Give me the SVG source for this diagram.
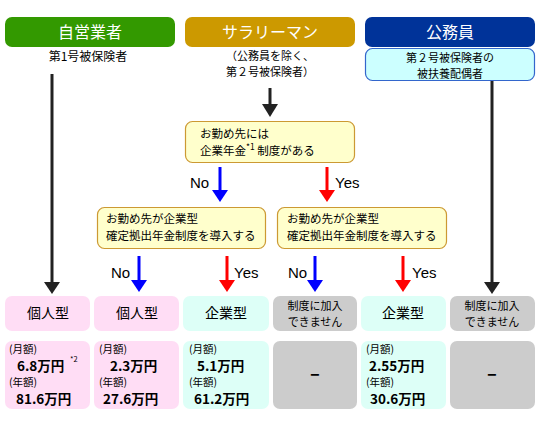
<svg xmlns="http://www.w3.org/2000/svg" width="540" height="431" viewBox="0 0 540 431">
<style>
text{font-family:"Noto Sans CJK JP","Noto Sans",sans-serif;fill:#000}
.hd{font-size:16px;fill:#fff;text-anchor:middle}
.t{font-size:12px}
.t2{font-size:11px}
.q{font-size:11.5px}
.s{font-size:10.5px}
.c{text-anchor:middle}
.yn{font-family:"Liberation Sans","Noto Sans",sans-serif;font-size:15px}
.big{font-size:14px;text-anchor:middle}
.amt{font-size:13.5px;font-weight:bold}
.dash{font-size:18px;font-weight:bold;text-anchor:middle}
.dec{fill:#FFFFCC;stroke:#CC9933;stroke-width:1.2}
.pink{fill:#FFDDF5}
.cyan{fill:#DDFFF7}
.gray{fill:#CCCCCC}
.k{stroke:#222;stroke-width:3}
.b{stroke:#0000FF;stroke-width:3}
.r{stroke:#FF0000;stroke-width:3}
</style>
<rect width="540" height="431" fill="#fff"/>
<g id="jieigyo">
<rect x="5" y="17" width="170" height="30" rx="7" fill="#339900"/>
<text class="hd" x="90" y="38">自営業者</text>
<text class="t c" x="88" y="61">第1号被保険者</text>
</g>
<g id="salary">
<rect x="185" y="17" width="170" height="30" rx="7" fill="#CC9900"/>
<text class="hd" x="270" y="38">サラリーマン</text>
<text class="t2 c" x="270" y="60">（公務員を除く、<tspan x="270" dy="16">第２号被保険者）</tspan></text>
</g>
<g id="komuin">
<rect x="365" y="17" width="170" height="30" rx="7" fill="#003399"/>
<text class="hd" x="450" y="38">公務員</text>
</g>
<g id="fuyou">
<rect x="365.5" y="48.5" width="169" height="32" rx="7" fill="#CCFFFF" stroke="#3366CC" stroke-width="1.2"/>
<text class="t2 c" x="450" y="61.5">第２号被保険者の<tspan x="450" dy="16">被扶養配偶者</tspan></text>
</g>
<g id="q1">
<rect class="dec" x="185.5" y="121.5" width="169" height="41" rx="7"/>
<text class="q" x="200" y="137.5">お勤め先には<tspan x="200" dy="17">企業年金</tspan><tspan font-size="8.5" dy="-5">*1</tspan><tspan dy="5"> 制度がある</tspan></text>
</g>
<g id="q2a">
<rect class="dec" x="97.5" y="207.5" width="168" height="41" rx="7"/>
<text class="q" x="106" y="222.5">お勤め先が企業型<tspan x="106" dy="17">確定拠出年金制度を導入する</tspan></text>
</g>
<g id="q2b">
<rect class="dec" x="277.5" y="207.5" width="169" height="41" rx="7"/>
<text class="q" x="287" y="222.5">お勤め先が企業型<tspan x="287" dy="17">確定拠出年金制度を導入する</tspan></text>
</g>
<g id="connectors">
<line class="k" x1="52" y1="74" x2="52" y2="284"/><polygon points="44,282 60,282 52,294" fill="#222"/>
<line class="k" x1="270" y1="88" x2="270" y2="106"/><polygon points="262,104 278,104 270,117" fill="#222"/>
<line class="k" x1="492" y1="81" x2="492" y2="284"/><polygon points="484,282 500,282 492,294" fill="#222"/>
<line class="b" x1="220" y1="167" x2="220" y2="192"/><polygon points="212,190 228,190 220,202" fill="#0000FF"/>
<text class="yn" x="190" y="188">No</text>
<line class="r" x1="327" y1="167" x2="327" y2="192"/><polygon points="319,190 335,190 327,202" fill="#FF0000"/>
<text class="yn" x="335" y="188">Yes</text>
<line class="b" x1="139" y1="256" x2="139" y2="282"/><polygon points="131,280 147,280 139,292" fill="#0000FF"/>
<text class="yn" x="111" y="278">No</text>
<line class="r" x1="227" y1="256" x2="227" y2="282"/><polygon points="219,280 235,280 227,292" fill="#FF0000"/>
<text class="yn" x="234" y="278">Yes</text>
<line class="b" x1="315" y1="256" x2="315" y2="282"/><polygon points="307,280 323,280 315,292" fill="#0000FF"/>
<text class="yn" x="288" y="278">No</text>
<line class="r" x1="403" y1="256" x2="403" y2="282"/><polygon points="395,280 411,280 403,292" fill="#FF0000"/>
<text class="yn" x="412" y="278">Yes</text>
</g>
<g id="r1c1"><rect class="pink" x="5" y="296" width="85" height="35" rx="7"/><text class="big" x="48" y="318">個人型</text></g>
<g id="r1c2"><rect class="pink" x="94" y="296" width="85" height="35" rx="7"/><text class="big" x="137" y="318">個人型</text></g>
<g id="r1c3"><rect class="cyan" x="183" y="296" width="86" height="35" rx="7"/><text class="big" x="226" y="318">企業型</text></g>
<g id="r1c4"><rect class="gray" x="273" y="296" width="84" height="35" rx="7"/><text class="t2 c" x="315" y="310">制度に加入<tspan x="315" dy="16">できません</tspan></text></g>
<g id="r1c5"><rect class="cyan" x="361" y="296" width="85" height="35" rx="7"/><text class="big" x="403" y="318">企業型</text></g>
<g id="r1c6"><rect class="gray" x="450" y="296" width="85" height="35" rx="7"/><text class="t2 c" x="492" y="310">制度に加入<tspan x="492" dy="16">できません</tspan></text></g>
<g id="r2c1"><rect class="pink" x="5" y="341" width="85" height="68" rx="7"/>
<text class="s" x="9" y="353">(月額)</text><text class="amt" x="17" y="370.5">6.8万円</text><text x="70" y="362" font-size="7.5">*2</text>
<text class="s" x="9" y="386">(年額)</text><text class="amt" x="16" y="403.5">81.6万円</text></g>
<g id="r2c2"><rect class="pink" x="94" y="341" width="85" height="68" rx="7"/>
<text class="s" x="99" y="353">(月額)</text><text class="amt" x="110" y="370.5">2.3万円</text>
<text class="s" x="99" y="386">(年額)</text><text class="amt" x="103" y="403.5">27.6万円</text></g>
<g id="r2c3"><rect class="cyan" x="183" y="341" width="86" height="68" rx="7"/>
<text class="s" x="189" y="353">(月額)</text><text class="amt" x="197" y="370.5">5.1万円</text>
<text class="s" x="189" y="386">(年額)</text><text class="amt" x="194" y="403.5">61.2万円</text></g>
<g id="r2c4"><rect class="gray" x="273" y="341" width="84" height="68" rx="7"/><text class="dash" x="315" y="380">–</text></g>
<g id="r2c5"><rect class="cyan" x="361" y="341" width="85" height="68" rx="7"/>
<text class="s" x="366" y="353">(月額)</text><text class="amt" x="369" y="370.5">2.55万円</text>
<text class="s" x="366" y="386">(年額)</text><text class="amt" x="370" y="403.5">30.6万円</text></g>
<g id="r2c6"><rect class="gray" x="450" y="341" width="85" height="68" rx="7"/><text class="dash" x="492" y="380">–</text></g>
</svg>
